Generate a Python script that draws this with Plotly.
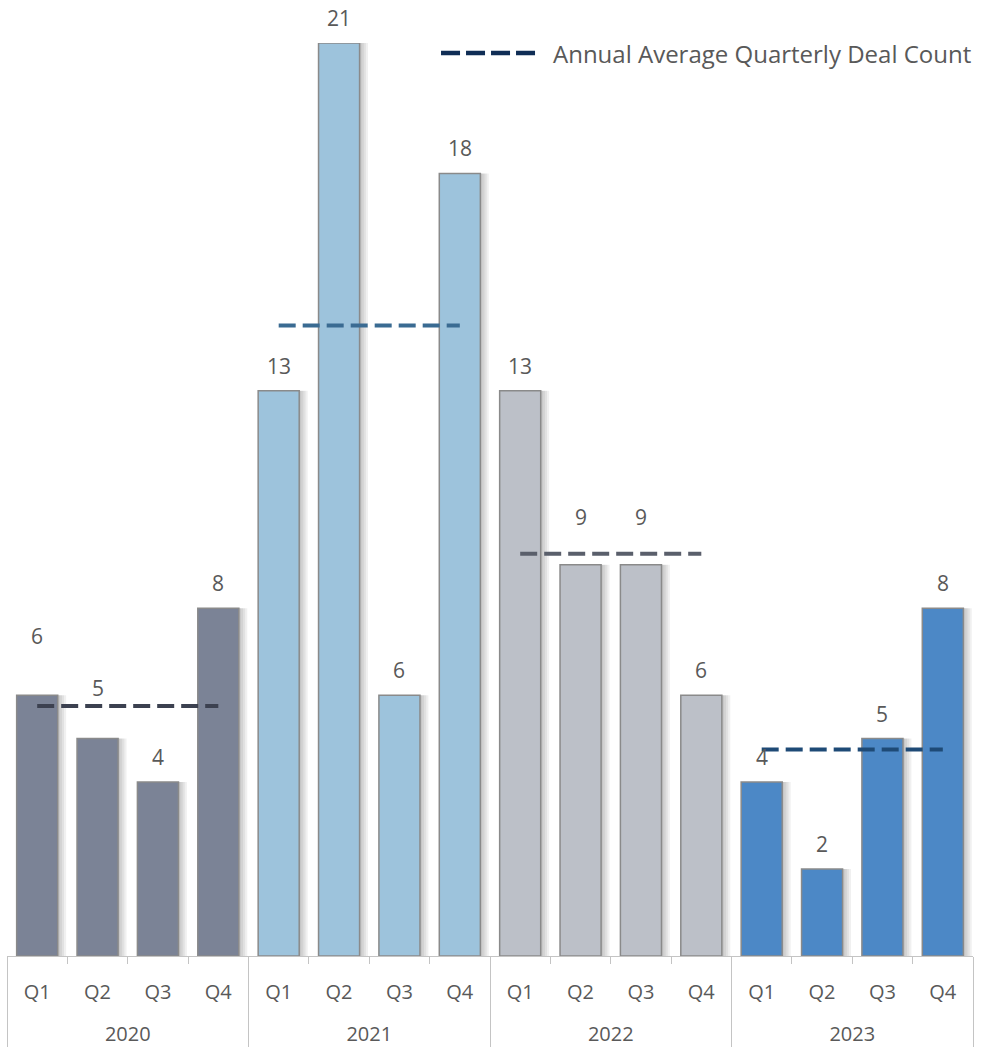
import plotly.graph_objects as go

years = ["2020", "2021", "2022", "2023"]
quarters = ["Q1", "Q2", "Q3", "Q4"]
deal_counts = [
    [6, 5, 4, 8],      # 2020
    [13, 21, 6, 18],   # 2021
    [13, 9, 9, 6],     # 2022
    [4, 2, 5, 8],      # 2023
]
legend_label = "Annual Average Quarterly Deal Count"

# ---- styles ----
bar_colors = {"2020": "#7b8396", "2021": "#9dc3dc", "2022": "#bcc0c8", "2023": "#4c88c6"}
avg_colors = {"2020": "#3c4150", "2021": "#3a6b92", "2022": "#5a5f6b", "2023": "#1e4a76"}
legend_color = "#0f2d55"
text_color = "#595959"
axis_color = "#c4c4c4"
FONT = "Open Sans"
# extra vertical lift (px) of value labels so they clear the dashed lines
label_lift = [
    [34, 26, 0, 0],
    [0, 0, 0, 0],
    [0, 23, 23, 0],
    [0, 0, 0, 0],
]

x_year, x_q, vals, cols = [], [], [], []
for yi, yr in enumerate(years):
    for qi, q in enumerate(quarters):
        x_year.append(yr)
        # invisible second line deepens the first label row
        x_q.append(q + "<br><span style='font-size:36px'>\u00a0</span>")
        vals.append(deal_counts[yi][qi])
        cols.append(bar_colors[yr])

fig = go.Figure()

BW = 0.68
# soft drop shadow layers
for k in range(1, 5):
    fig.add_trace(go.Bar(
        x=[x_year, x_q], y=vals,
        width=BW, offset=-BW / 2 + k * 0.035,
        marker=dict(color="rgba(0,0,0,0.06)", line=dict(width=0)),
        showlegend=False, hoverinfo="skip",
    ))

fig.add_trace(go.Bar(
    x=[x_year, x_q], y=vals,
    width=BW, offset=-BW / 2,
    marker=dict(color=cols, line=dict(color="#8a8a8a", width=1.5)),
    showlegend=False,
))

# annual averages (dashed, from Q1 to Q4 of each year)
for yi, yr in enumerate(years):
    avg = sum(deal_counts[yi]) / len(deal_counts[yi])
    qs = [x_q[yi * 4], x_q[yi * 4 + 3]]
    fig.add_trace(go.Scatter(
        x=[[yr, yr], qs], y=[avg, avg],
        mode="lines",
        line=dict(color=avg_colors[yr], width=4, dash="17px,7px"),
        showlegend=False, hoverinfo="skip",
    ))

# value labels
idx = 0
for yi, yr in enumerate(years):
    for qi, q in enumerate(quarters):
        v = deal_counts[yi][qi]
        fig.add_annotation(
            x=idx, y=v, xref="x", yref="y",
            text=str(v), showarrow=False,
            yanchor="middle", yshift=25 + label_lift[yi][qi],
            font=dict(family=FONT, size=21, color=text_color),
        )
        idx += 1

# legend (drawn manually so it may overhang the plot area)
LEG_X0, LEG_X1, LEG_TX, LEG_Y = 0.4493, 0.5487, 0.5631, 0.989
fig.add_shape(
    type="line", xref="paper", yref="paper",
    x0=LEG_X0, x1=LEG_X1, y0=LEG_Y, y1=LEG_Y,
    line=dict(color=legend_color, width=4.5, dash="19px,6px"),
)
fig.add_annotation(
    x=LEG_TX, y=LEG_Y, xref="paper", yref="paper",
    xanchor="left", yanchor="middle", showarrow=False,
    text=legend_label,
    font=dict(family=FONT, size=24, color=text_color),
)

fig.update_layout(
    width=992, height=1047,
    margin=dict(l=7, r=19, t=43, b=91, pad=0),
    paper_bgcolor="white", plot_bgcolor="white",
    barmode="overlay",
    font=dict(family=FONT, size=20, color=text_color),
    showlegend=False,
)
fig.update_xaxes(
    type="multicategory",
    showline=True, linecolor=axis_color, linewidth=1,
    ticks="outside", tickson="boundaries", ticklen=7, tickcolor=axis_color,
    showdividers=True, dividercolor=axis_color, dividerwidth=1,
    showgrid=False, zeroline=False,
    tickfont=dict(family=FONT, size=20, color=text_color),
    ticklabelstandoff=18,
    range=[-0.5, 15.5], automargin=False,
)
fig.update_yaxes(range=[0, 21], visible=False, showgrid=False, zeroline=False)

fig.write_html("out.html")
